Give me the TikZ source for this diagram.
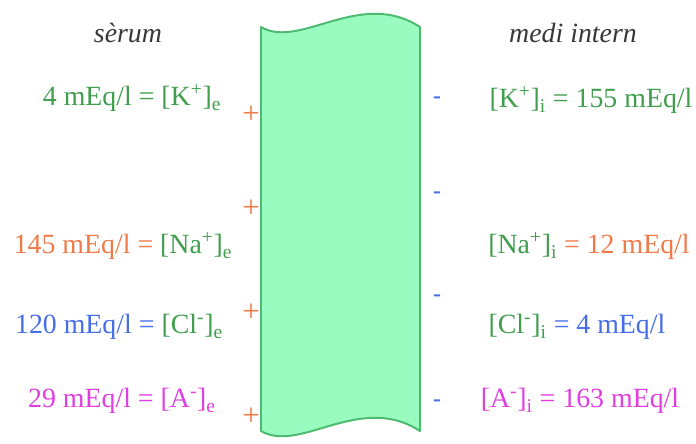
\documentclass[tikz,border=0pt]{standalone}
\usepackage{fontspec}
\setmainfont{Liberation Serif}
\usetikzlibrary{positioning}
\definecolor{membfill}{RGB}{153,251,192}
\definecolor{membline}{RGB}{76,187,112}
\definecolor{ionGreen}{RGB}{64,158,78}
\definecolor{ionOrange}{RGB}{240,122,72}
\definecolor{ionBlue}{RGB}{70,110,232}
\definecolor{ionMagenta}{RGB}{224,62,224}
\definecolor{titleGray}{RGB}{55,55,55}
\newcommand{\ionext}[2]{[#1\textsuperscript{#2}]\textsubscript{e}}
\newcommand{\ionint}[2]{[#1\textsuperscript{#2}]\textsubscript{i}}
\tikzset{
  conc/.style={inner sep=0pt, font=\fontsize{19.8}{22}\selectfont},
  side title/.style={inner sep=0pt, font=\fontsize{19.8}{22}\selectfont\itshape, text=titleGray},
  pos charge/.style={inner sep=0pt, font=\fontsize{22}{22}\selectfont, text=ionOrange},
  neg charge/.style={inner sep=0pt, font=\fontsize{17}{17}\selectfont\bfseries, text=ionBlue},
  membrane/.style={draw=membline, fill=membfill, line width=1.4pt, line join=round}
}

\begin{document}
\begin{tikzpicture}[x=0.025cm, y=-0.025cm]
  \useasboundingbox (0,0) rectangle (696,444);

  % membrane
  \draw[membrane] (261,27) .. controls (300,50) and (360,-12) .. (420,27)
    -- (420,431) .. controls (360,392) and (300,454) .. (261,431) -- cycle;

  % titles
  \node[side title] (serum) at (128,33) {sèrum};
  \node[side title] (medi) at (573,33) {medi intern};

  % serum side
  \node[conc, text=ionGreen] (kext) at (132,98) {4 mEq/l = \ionext{K}{+}};
  \node[conc] (naext) at (123,246) {\textcolor{ionOrange}{145 mEq/l =} \textcolor{ionGreen}{\ionext{Na}{+}}};
  \node[conc] (clext) at (119,327) {\textcolor{ionBlue}{120 mEq/l =} \textcolor{ionGreen}{\ionext{Cl}{-}}};
  \node[conc, text=ionMagenta] (aext) at (122,401) {29 mEq/l = \ionext{A}{-}};

  % internal side
  \node[conc, text=ionGreen] (kint) at (591,100) {\ionint{K}{+} = 155 mEq/l};
  \node[conc] (naint) at (589,246) {\textcolor{ionGreen}{\ionint{Na}{+}} \textcolor{ionOrange}{= 12 mEq/l}};
  \node[conc] (clint) at (577,327) {\textcolor{ionGreen}{\ionint{Cl}{-}} \textcolor{ionBlue}{= 4 mEq/l}};
  \node[conc, text=ionMagenta] (aint) at (580,401) {\ionint{A}{-} = 163 mEq/l};

  % charges
  \foreach \y [count=\i] in {115,209,313,417}
    \node[pos charge] (plus\i) at (251,\y) {+};
  \foreach \y [count=\i] in {100,195,298,403}
    \node[neg charge] (minus\i) at (437,\y) {-};
\end{tikzpicture}
\end{document}
